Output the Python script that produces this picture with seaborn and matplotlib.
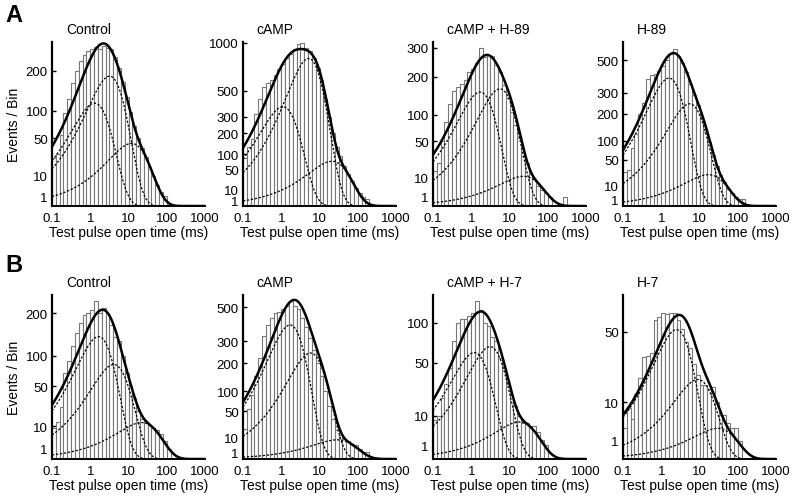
import matplotlib
matplotlib.use("Agg")
import matplotlib.pyplot as plt
import numpy as np
import pandas as pd
import seaborn as sns
from matplotlib.ticker import NullLocator

# open-time histograms, 10 log bins per decade starting at 0.1 ms
first_edge = -1.0
bin_width = 0.1

titles_a = ['Control', 'cAMP', 'cAMP + H-89', 'H-89']
titles_b = ['Control', 'cAMP', 'cAMP + H-7', 'H-7']

# events per bin
a_control_counts = [25, 30, 55, 95, 125, 165, 200, 230, 250, 262, 272, 278, 270, 280, 275,
                    270, 245, 210, 170, 130, 96, 70, 50, 37, 26, 17, 10, 5, 2, 1]
a_camp_counts = [85, 130, 170, 320, 430, 530, 570, 600, 640, 700, 760, 820, 870, 920, 980,
                 1000, 940, 900, 820, 720, 600, 430, 300, 200, 130, 95, 60, 38, 24, 12,
                 6, 3, 2]
a_camp_h89_counts = [15, 22, 50, 85, 125, 160, 170, 180, 190, 215, 225, 245, 300, 265, 275,
                     270, 240, 215, 175, 140, 105, 78, 55, 30, 22, 12, 9, 5, 3, 2,
                     1, 0, 0, 0, 1]
a_h89_counts = [27, 30, 80, 120, 200, 250, 380, 400, 410, 430, 460, 500, 540, 580, 530,
                480, 420, 350, 290, 240, 185, 130, 95, 60, 38, 22, 13, 7, 4, 2, 1, 1]
b_control_counts = [9, 13, 25, 70, 90, 120, 150, 175, 195, 200, 210, 235, 200, 215, 200,
                    170, 140, 130, 100, 70, 50, 35, 22, 15, 12, 11, 9, 8, 6, 3, 1]
b_camp_counts = [20, 55, 90, 150, 220, 330, 390, 430, 460, 470, 490, 510, 540, 510, 490,
                 430, 380, 320, 260, 200, 150, 100, 60, 35, 18, 12, 9, 7, 5, 4, 2, 1, 1]
b_camp_h7_counts = [8, 10, 20, 30, 45, 75, 100, 105, 105, 110, 115, 135, 120, 100, 95,
                    80, 75, 55, 45, 30, 22, 15, 10, 7, 7, 6, 6, 4, 2, 1]
b_h7_counts = [3, 8, 5, 13, 20, 32, 33, 35, 60, 62, 66, 65, 66, 66, 60,
               52, 42, 38, 28, 22, 17, 17, 15, 16, 10, 6, 6, 4, 3, 3, 1]

# fitted exponential components: time constant (ms) and peak height (events/bin)
a_control_tau = [1.3, 3.2, 12]
a_control_peak = [116, 185, 43]
a_camp_tau = [1.1, 5.2, 21]
a_camp_peak = [370, 818, 75]
a_camp_h89_tau = [1.7, 5.6, 23]
a_camp_h89_peak = [156, 165, 10.6]
a_h89_tau = [1.6, 5.5, 17]
a_h89_peak = [384, 245, 23]
b_control_tau = [1.65, 4.1, 22]
b_control_peak = [141, 84, 12.5]
b_camp_tau = [1.7, 5.8, 29]
b_camp_peak = [390, 244, 8]
b_camp_h7_tau = [1.2, 3.1, 18]
b_camp_h7_peak = [61, 68, 7.4]
b_h7_tau = [2.5, 9, 30]
b_h7_peak = [51.6, 19.5, 2.9]

y_max_a = [295, 1010, 323, 631]
y_max_b = [253, 584, 145, 83]
y_ticks_a = [[1, 10, 50, 100, 200],
             [1, 10, 50, 100, 200, 300, 500, 1000],
             [1, 10, 50, 100, 200, 300],
             [1, 10, 50, 100, 200, 300, 500]]
y_ticks_b = [[1, 10, 50, 100, 200],
             [1, 10, 50, 100, 200, 300, 500],
             [1, 10, 50, 100],
             [1, 10, 50]]
x_ticks = [0.1, 1, 10, 100, 1000]
x_tick_labels = ['0.1', '1', '10', '100', '1000']


def sqrt_fwd(y):
    return np.sqrt(np.clip(y, 0, None))


def sqrt_inv(y):
    return np.square(y)


def components(t, taus, peaks):
    # log-binned exponential: peaks at t = tau
    return [p * (t / tau) * np.exp(1 - t / tau) for tau, p in zip(taus, peaks)]


def draw_panel(ax, counts, taus, peaks, ymax, yticks, title, show_ylabel):
    n = len(counts)
    centers = 10 ** (first_edge + bin_width * (np.arange(n) + 0.5))
    df = pd.DataFrame({'time': centers, 'events': counts})
    sns.histplot(data=df, x='time', weights='events', log_scale=True,
                 binwidth=bin_width, binrange=(first_edge, first_edge + bin_width * n),
                 color='white', edgecolor='#777777', linewidth=0.8, alpha=1, ax=ax)

    t = np.logspace(-1, 3, 500)
    comps = components(t, taus, peaks)
    for c in comps:
        sns.lineplot(x=t, y=c, ax=ax, color='black', linewidth=0.9,
                     linestyle=(0, (1.8, 1.4)), estimator=None)
    sns.lineplot(x=t, y=np.sum(comps, axis=0), ax=ax, color='black',
                 linewidth=1.8, estimator=None)

    ax.set_yscale('function', functions=(sqrt_fwd, sqrt_inv))
    ax.set_xlim(0.1, 1000)
    ax.set_ylim(0, ymax)
    ax.set_xticks(x_ticks)
    ax.set_xticklabels(x_tick_labels)
    ax.xaxis.set_minor_locator(NullLocator())
    ax.set_yticks(yticks)
    ax.set_yticklabels([str(v) for v in yticks])
    ax.yaxis.set_minor_locator(NullLocator())
    ax.tick_params(axis='x', length=0, pad=4, labelsize=9.5, colors='black')
    ax.tick_params(axis='y', direction='in', length=3, width=1, pad=3, labelsize=9.5,
                   colors='black')
    for side in ['top', 'right']:
        ax.spines[side].set_visible(False)
    ax.spines['left'].set_linewidth(1.6)
    ax.spines['bottom'].set_linewidth(1.4)
    ax.spines['left'].set_color('black')
    ax.spines['bottom'].set_color('black')
    ax.set_xlabel('Test pulse open time (ms)', fontsize=10, labelpad=1, color='black')
    ax.set_ylabel('Events / Bin' if show_ylabel else '', fontsize=10, labelpad=3,
                  color='black')
    ax.text(0.09, 1.035, title, transform=ax.transAxes, fontsize=10, ha='left',
            va='bottom', color='black')


sns.set_style('ticks')
plt.rcParams['font.family'] = ['Liberation Sans', 'DejaVu Sans']
plt.rcParams['text.color'] = 'black'

fig = plt.figure(figsize=(7.92, 5.02), dpi=100)
lefts = [52 / 792, 243 / 792, 433 / 792, 623 / 792]
width = 153 / 792
height = 164 / 502
bottoms = [(502 - 207) / 502, (502 - 460) / 502]

counts_a = [a_control_counts, a_camp_counts, a_camp_h89_counts, a_h89_counts]
taus_a = [a_control_tau, a_camp_tau, a_camp_h89_tau, a_h89_tau]
peaks_a = [a_control_peak, a_camp_peak, a_camp_h89_peak, a_h89_peak]
counts_b = [b_control_counts, b_camp_counts, b_camp_h7_counts, b_h7_counts]
taus_b = [b_control_tau, b_camp_tau, b_camp_h7_tau, b_h7_tau]
peaks_b = [b_control_peak, b_camp_peak, b_camp_h7_peak, b_h7_peak]

rows = [(counts_a, taus_a, peaks_a, y_max_a, y_ticks_a, titles_a),
        (counts_b, taus_b, peaks_b, y_max_b, y_ticks_b, titles_b)]

for r, (cnts, taus, peaks, ymaxs, yticks, titles) in enumerate(rows):
    for i in range(4):
        ax = fig.add_axes([lefts[i], bottoms[r], width, height])
        draw_panel(ax, cnts[i], taus[i], peaks[i], ymaxs[i], yticks[i], titles[i], i == 0)

fig.text(14 / 792, 1 - 16 / 502, 'A', fontsize=17, fontweight='bold', ha='center',
         va='center', color='black')
fig.text(14 / 792, 1 - 266 / 502, 'B', fontsize=17, fontweight='bold', ha='center',
         va='center', color='black')

fig.savefig('out.png', dpi=100)
